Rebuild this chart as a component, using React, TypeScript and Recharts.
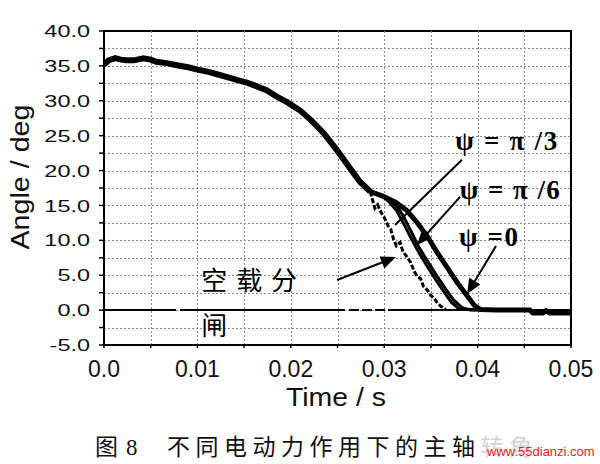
import React from 'react';
import {
  LineChart, Line, XAxis, YAxis, ReferenceLine, ReferenceDot,
  ReferenceArea, Customized,
} from 'recharts';

// ---- data (time in s, angle in deg) ----
const commonT = [0, 0.0005, 0.0012, 0.0018, 0.0024, 0.0032, 0.0042, 0.005, 0.0056, 0.0067, 0.0078, 0.009, 0.0099, 0.011, 0.0121, 0.0132, 0.0142, 0.0153, 0.0163, 0.0174, 0.0185, 0.0196, 0.021, 0.0221, 0.0235, 0.0249, 0.0263, 0.0274, 0.0285];
const commonV = [35.2, 35.8, 36.1, 35.9, 35.8, 35.8, 36.1, 35.9, 35.6, 35.4, 35.1, 34.8, 34.5, 34.2, 33.8, 33.4, 33.0, 32.6, 32.1, 31.5, 30.6, 29.8, 28.6, 27.3, 25.4, 23.0, 20.4, 18.4, 17.0];

const psi0T = [0.0285, 0.0299, 0.0313, 0.0324, 0.0335, 0.0346, 0.0356, 0.0367, 0.0378, 0.0388, 0.0397, 0.0403, 0.042, 0.044, 0.0456, 0.0459, 0.047, 0.0473, 0.0477, 0.05];
const psi0V = [17.0, 16.3, 15.4, 14.3, 12.6, 10.6, 8.4, 6.2, 4.0, 2.2, 0.6, 0.1, 0.0, 0.0, 0.0, -0.4, -0.4, -0.1, -0.4, -0.4];

const psi6T = [0.0299, 0.0313, 0.032, 0.0328, 0.0336, 0.0345, 0.0355, 0.0365, 0.0374, 0.0383, 0.0392, 0.041];
const psi6V = [16.3, 15.0, 13.6, 11.5, 9.3, 7.3, 5.2, 3.2, 1.5, 0.4, 0.0, 0.0];

const psi3T = [0.0299, 0.0306, 0.0313, 0.032, 0.0328, 0.0336, 0.0345, 0.0355, 0.0364, 0.0372, 0.038, 0.04];
const psi3V = [16.3, 15.4, 14.3, 12.6, 10.5, 8.5, 6.5, 4.4, 2.6, 1.1, 0.2, 0.0];

const noLoadT = [0.0285, 0.029, 0.0293, 0.0297, 0.03, 0.0304, 0.0307, 0.031, 0.0313, 0.0317, 0.032, 0.0324, 0.0328, 0.0332, 0.0335, 0.0339, 0.0342, 0.0346, 0.035, 0.0354, 0.0357, 0.0361, 0.0366];
const noLoadV = [17.0, 14.6, 15.1, 13.9, 13.3, 12.1, 11.6, 10.2, 9.2, 9.7, 8.4, 7.7, 6.9, 5.6, 4.9, 4.5, 3.4, 2.9, 2.1, 1.6, 1.0, 0.5, 0.1];

// ---- ticks ----
const xTicks = [0, 0.005, 0.01, 0.015, 0.02, 0.025, 0.03, 0.035, 0.04, 0.045, 0.05];
const xTickLabels = ['0.0', '', '0.01', '', '0.02', '', '0.03', '', '0.04', '', '0.05'];
const yTicks = [-5, -2.5, 0, 2.5, 5, 7.5, 10, 12.5, 15, 17.5, 20, 22.5, 25, 27.5, 30, 32.5, 35, 37.5, 40];
const yTickLabels = ['-5.0', '', '0.0', '', '5.0', '', '10.0', '', '15.0', '', '20.0', '', '25.0', '', '30.0', '', '35.0', '', '40.0'];

// ---- annotations (data coordinates) ----
const labelTexts = ['ψ = π /3', 'ψ = π /6', 'ψ =0', '空载分', '闸'];
const labelT = [0.0376, 0.0381, 0.038, 0.0104, 0.0104];
const labelV = [23.0, 15.9, 9.2, 2.9, -3.6];
const labelWidths = [102, 100, 59, 96, 26];

const pointerFromT = [0.03833, 0.03812, 0.04197, 0.02495];
const pointerFromV = [21.55, 16.24, 9.2, 4.31];
const pointerToT = [0.03116, 0.03351, 0.03887, 0.03126];
const pointerToV = [12.2, 9.34, 2.3, 7.6];
const pointerHasHead = [false, true, true, true];

const toRows = (ts: number[], vs: number[]) => ts.map((t, i) => ({ t, v: vs[i] }));

const SANS = '"Liberation Sans", Arial, sans-serif';
const SERIF = '"Liberation Serif", "Times New Roman", serif';
const CJK = '"Noto Sans CJK SC", sans-serif';
const GRID = '#8a8a8a';

const XTick = (props: any) => {
  const { x, y, index } = props;
  const lbl = xTickLabels[index];
  if (!lbl) return <g />;
  return (
    <text x={x} y={y} dy={27} textAnchor="middle" fontSize={23} fontFamily={SANS} fill="#111">
      {lbl}
    </text>
  );
};

const YTick = (props: any) => {
  const { x, y, index } = props;
  const lbl = yTickLabels[index];
  if (!lbl) return <g />;
  return (
    <text transform={`translate(${x},${y}) scale(1.38,1)`} dy="0.36em" textAnchor="end" fontSize={17} fontFamily={SANS} fill="#111">
      {lbl}
    </text>
  );
};

const GridLine = (p: any) => {
  const { x1, y1, x2, y2 } = p;
  if ([x1, y1, x2, y2].some((n) => typeof n !== 'number' || isNaN(n))) return <g />;
  const r = (n: number) => Math.round(n) + 0.5;
  return (
    <line
      x1={x1 === x2 ? r(x1) : x1}
      x2={x1 === x2 ? r(x2) : x2}
      y1={y1 === y2 ? r(y1) : y1}
      y2={y1 === y2 ? r(y2) : y2}
      stroke={GRID}
      strokeWidth={1}
      strokeDasharray="2 2"
    />
  );
};

const Pointer = (hasHead: boolean) => (p: any) => {
  const { x1, y1, x2, y2 } = p;
  if ([x1, y1, x2, y2].some((n) => typeof n !== 'number' || isNaN(n))) return <g />;
  const dx = x2 - x1;
  const dy = y2 - y1;
  const len = Math.sqrt(dx * dx + dy * dy) || 1;
  const ux = dx / len;
  const uy = dy / len;
  const hl = 15;
  const hw = 6.5;
  const bx = x2 - ux * hl;
  const by = y2 - uy * hl;
  return (
    <g>
      <line x1={x1} y1={y1} x2={hasHead ? bx : x2} y2={hasHead ? by : y2} stroke="#000" strokeWidth={2} />
      {hasHead && (
        <polygon
          points={`${x2},${y2} ${bx - uy * hw},${by + ux * hw} ${bx + uy * hw},${by - ux * hw}`}
          fill="#000"
        />
      )}
    </g>
  );
};

const LabelShape = (i: number) => (p: any) => {
  const { cx, cy } = p;
  const isCJK = i >= 3;
  return (
    <text
      x={cx}
      y={cy}
      fontSize={isCJK ? 26 : 27}
      fontWeight={isCJK ? 400 : 700}
      fontFamily={isCJK ? CJK : SERIF}
      textLength={labelWidths[i]}
      lengthAdjust="spacing"
      fill="#000"
    >
      {labelTexts[i]}
    </text>
  );
};

const Titles = () => (
  <g>
    <text
      transform="translate(29,177) rotate(-90)"
      textAnchor="middle"
      fontSize={25}
      fontFamily={SANS}
      textLength={145}
      lengthAdjust="spacingAndGlyphs"
      fill="#111"
    >
      Angle / deg
    </text>
    <text x={336} y={406} textAnchor="middle" fontSize={26} fontFamily={SANS} textLength={100} lengthAdjust="spacingAndGlyphs" fill="#111">
      Time / s
    </text>
    <text x={95} y={455} fontSize={23} fontFamily={CJK} fill="#111">图</text>
    <text x={126} y={455} fontSize={23} fontFamily={SERIF} fill="#111">8</text>
    <text x={167} y={455} fontSize={23} fontFamily={CJK} letterSpacing={5.5} fill="#111">
      不同电动力作用下的主轴<tspan fill="#d4d4d4">转角</tspan>
    </text>
    <text x={487} y={456} fontSize={13} fontFamily={SANS} fill="#e3231b">www.55dianzi.com</text>
  </g>
);

export default function App() {
  return (
    <div style={{ position: 'absolute', left: 0, top: 0, width: 600, height: 464, background: '#fff' }}>
      <LineChart width={600} height={464} margin={{ top: 31, right: 29, left: 0, bottom: 89 }}>
        <XAxis
          type="number"
          dataKey="t"
          domain={[0, 0.05]}
          ticks={xTicks}
          interval={0}
          height={30}
          tickSize={3}
          tick={XTick}
          axisLine={{ stroke: '#000', strokeWidth: 2 }}
          tickLine={{ stroke: '#000', strokeWidth: 1.5 }}
          allowDataOverflow
        />
        <YAxis
          type="number"
          domain={[-5, 40]}
          ticks={yTicks}
          interval={0}
          width={104}
          tickSize={5}
          tickMargin={9}
          tick={YTick}
          axisLine={{ stroke: '#000', strokeWidth: 2 }}
          tickLine={{ stroke: '#000', strokeWidth: 1.5 }}
          allowDataOverflow
        />
        {xTicks.slice(1, -1).map((t) => (
          <ReferenceLine key={`gx${t}`} x={t} shape={GridLine} />
        ))}
        {yTicks.slice(1, -1).map((v) => (
          <ReferenceLine key={`gy${v}`} y={v} shape={GridLine} />
        ))}
        <ReferenceArea x1={0} x2={0.05} y1={-5} y2={40} fill="none" stroke="#000" strokeWidth={2} ifOverflow="visible" />
        <ReferenceLine y={0} stroke="#000" strokeWidth={2} strokeDasharray="72 4 165 4 10 3 10 3 10 3 400" />
        <Line data={toRows(noLoadT, noLoadV)} dataKey="v" type="linear" stroke="#000" strokeWidth={3} strokeDasharray="5 2" dot={false} isAnimationActive={false} />
        <Line data={toRows(psi3T, psi3V)} dataKey="v" type="linear" stroke="#000" strokeWidth={3} dot={false} isAnimationActive={false} />
        <Line data={toRows(psi6T, psi6V)} dataKey="v" type="linear" stroke="#000" strokeWidth={3} dot={false} isAnimationActive={false} />
        <Line data={toRows(psi0T, psi0V)} dataKey="v" type="linear" stroke="#000" strokeWidth={5} dot={false} isAnimationActive={false} />
        <Line data={toRows(commonT, commonV)} dataKey="v" type="linear" stroke="#000" strokeWidth={6} dot={false} isAnimationActive={false} />
        {pointerFromT.map((t, i) => (
          <ReferenceLine
            key={`p${i}`}
            segment={[{ x: t, y: pointerFromV[i] }, { x: pointerToT[i], y: pointerToV[i] }]}
            shape={Pointer(pointerHasHead[i])}
            ifOverflow="visible"
          />
        ))}
        {labelTexts.map((_, i) => (
          <ReferenceDot key={`l${i}`} x={labelT[i]} y={labelV[i]} r={0} shape={LabelShape(i)} ifOverflow="visible" />
        ))}
        <Customized component={Titles} />
      </LineChart>
    </div>
  );
}
